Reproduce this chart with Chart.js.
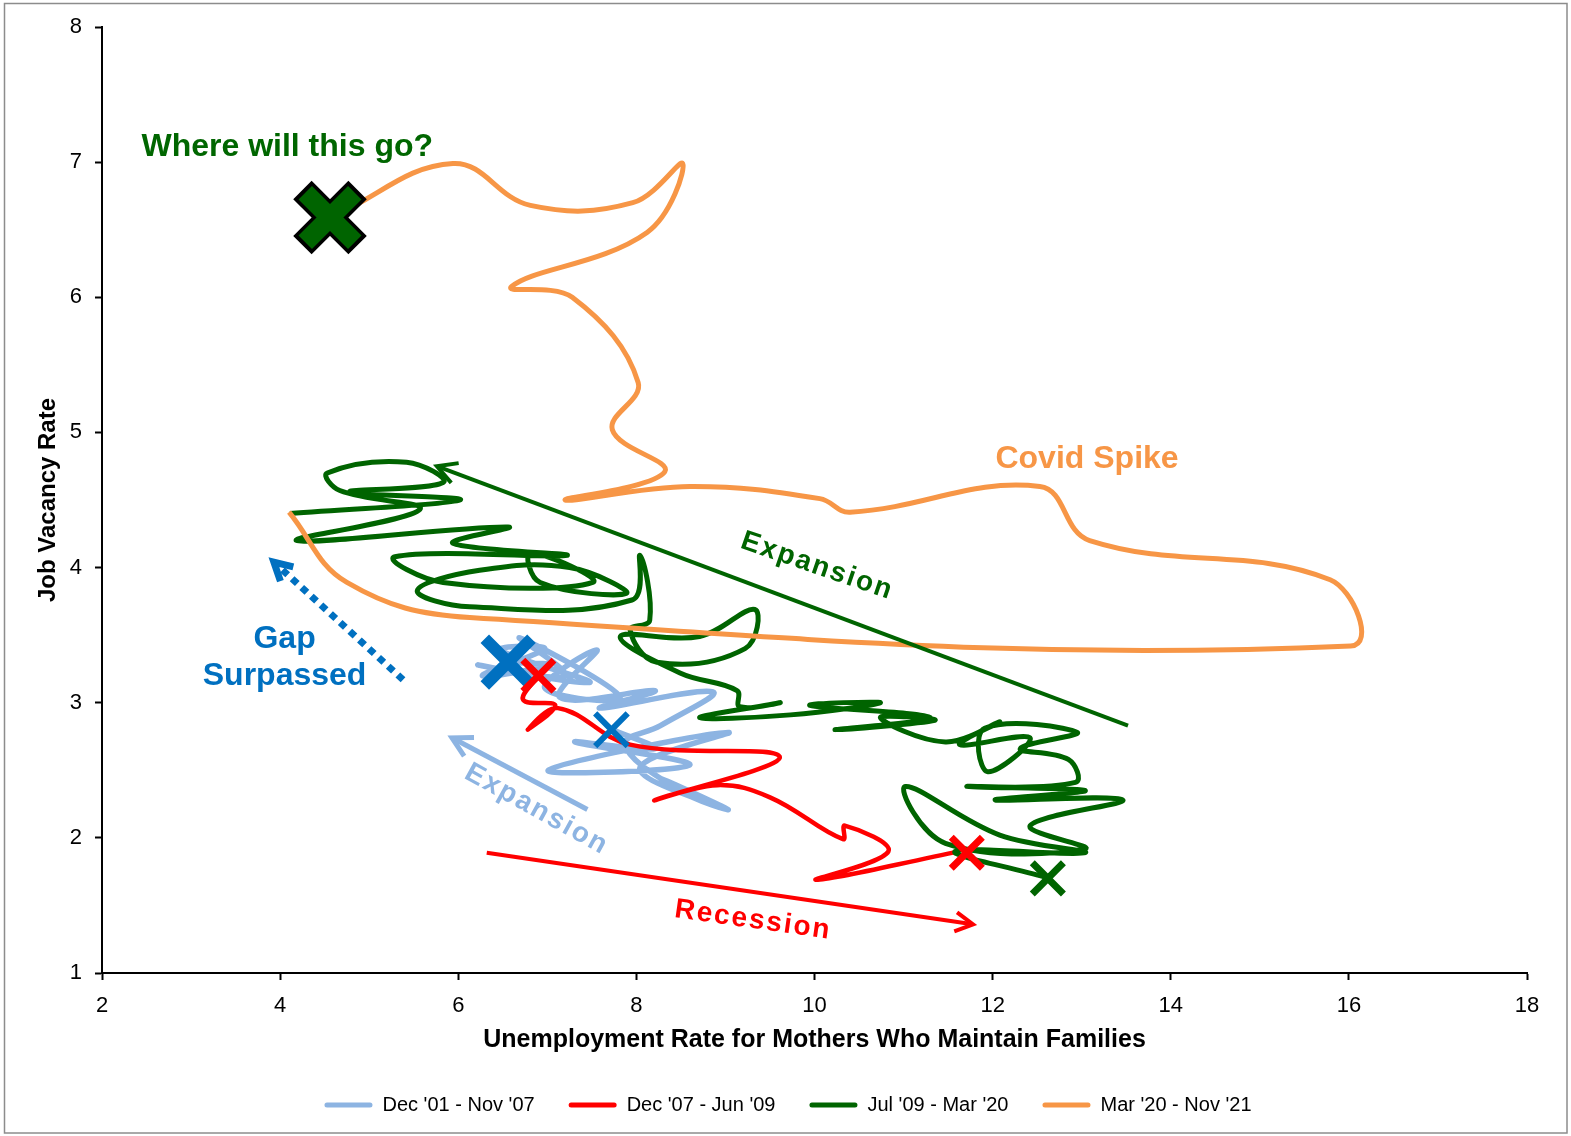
<!DOCTYPE html>
<html lang="en">
<head>
    <meta charset="UTF-8">
    <title>Job Vacancy Rate vs Unemployment Rate for Mothers Who Maintain Families</title>
    <script src="https://cdn.jsdelivr.net/npm/chart.js"></script>
    <style>
        html, body {
            margin: 0;
            padding: 0;
            background: #fff;
        }
        #wrap {
            width: 1571px;
            height: 1136px;
        }
    </style>
</head>
<body>
    <div id="wrap">
        <canvas id="chart" width="1571" height="1136"></canvas>
    </div>

    <script>
        // series labels (legend)
        const seriesLabels = ["Dec '01 - Nov '07", "Dec '07 - Jun '09", "Jul '09 - Mar '20", "Mar '20 - Nov '21"];

        // x = unemployment rate, y = job vacancy rate
        const blueX = [7.70, 8.21, 7.31, 8.60, 7.01, 9.03, 8.04, 8.71, 8.27, 9.03, 8.49, 7.87, 8.27, 8.86, 7.59, 8.21, 7.14, 7.56, 6.97, 7.82, 6.69, 7.20, 6.22, 7.48, 6.47, 6.97, 6.27, 7.01, 6.53];
        const blueY = [2.81, 2.66, 2.71, 2.54, 2.50, 2.78, 2.52, 2.28, 2.44, 2.21, 2.35, 2.69, 2.83, 3.08, 2.96, 3.09, 3.04, 3.39, 3.11, 3.04, 3.48, 3.20, 3.28, 3.15, 3.39, 3.40, 3.20, 3.28, 3.30];

        const redX = [6.88, 6.73, 7.09, 6.78, 7.12, 7.93, 9.61, 8.21, 8.91, 9.50, 10.32, 10.34, 10.83, 10.02, 11.63];
        const redY = [3.19, 3.02, 2.98, 2.80, 2.96, 2.69, 2.60, 2.28, 2.39, 2.30, 1.99, 2.09, 1.90, 1.69, 1.90];

        const greenX = [12.59, 11.58, 13.04, 12.08, 11.02, 11.47, 13.04, 12.42, 13.46, 12.03, 13.04, 11.71, 12.93, 12.85, 12.31, 12.95, 11.91, 11.94, 12.42, 11.63,
                        12.08, 11.47, 10.74, 11.35, 10.23, 11.30, 9.95, 10.74, 9.73, 8.71, 9.61, 9.16, 9.13, 8.49, 7.82, 8.71, 9.33, 9.22, 8.23, 7.93,
                        8.15, 8.04, 7.95, 6.13, 5.54, 6.24, 7.25, 7.89, 6.92, 6.81, 7.51, 5.83, 5.29, 7.22, 5.94, 6.56, 4.19, 5.57, 4.67, 4.53,
                        5.42, 5.83, 4.78, 6.02, 4.11];
        const greenY = [1.71, 1.90, 1.89, 2.02, 2.38, 1.96, 1.92, 2.09, 2.28, 2.28, 2.35, 2.38, 2.41, 2.58, 2.66, 2.78, 2.81, 2.49, 2.74, 2.69,
                        2.86, 2.71, 2.89, 2.87, 2.80, 2.89, 2.98, 3.00, 2.91, 2.89, 3.00, 2.97, 3.09, 3.22, 3.49, 3.49, 3.69, 3.40, 3.30, 3.54,
                        3.61, 4.09, 3.76, 3.71, 3.83, 3.98, 4.00, 3.81, 3.89, 4.11, 3.89, 3.89, 4.08, 4.09, 4.18, 4.30, 4.20, 4.43, 4.57, 4.70,
                        4.78, 4.63, 4.56, 4.50, 4.40];

        const orangeX = [4.10, 4.75, 6.13, 16.02, 15.79, 13.09, 12.53, 10.40, 10.06, 8.60, 7.20, 8.32, 7.73, 8.02, 7.28, 6.60, 8.12, 8.52, 7.96, 6.81, 5.94, 4.60];
        const orangeY = [4.41, 3.89, 3.63, 3.42, 3.91, 4.20, 4.60, 4.41, 4.51, 4.60, 4.50, 4.71, 5.02, 5.37, 6.00, 6.08, 6.48, 6.99, 6.70, 6.68, 6.99, 6.60];

        // X markers
        const bigBlueMark = [6.56, 3.30];
        const smallBlueMark = [7.72, 2.80];
        const redMarksX = [6.90, 11.71];
        const redMarksY = [3.20, 1.89];
        const greenMark = [12.62, 1.70];
        const finalMark = [4.56, 6.59];

        // axis ticks
        const xTicks = [2, 4, 6, 8, 10, 12, 14, 16, 18];
        const yTicks = [1, 2, 3, 4, 5, 6, 7, 8];

        const colors = ['#8DB4E2', '#FF0000', '#006400', '#F79646'];

        function pts(xs, ys) {
            return xs.map((v, i) => ({ x: v, y: ys[i] }));
        }

        function lineSet(i, xs, ys, width, order) {
            return {
                label: seriesLabels[i],
                data: pts(xs, ys),
                showLine: true,
                borderColor: colors[i],
                backgroundColor: colors[i],
                borderWidth: width,
                pointRadius: 0,
                tension: 0.4,
                order: order
            };
        }

        function markSet(data, color, radius, width, order) {
            return {
                label: 'mark',
                data: data,
                showLine: false,
                pointStyle: 'crossRot',
                pointRadius: radius,
                pointBorderColor: color,
                pointBackgroundColor: color,
                pointBorderWidth: width,
                order: order
            };
        }

        // arrows and notes drawn in data coordinates
        const arrows = [
            { from: [13.52, 2.83], to: [5.76, 4.75], color: '#006400', width: 4, head: 22 },
            { from: [5.38, 3.17], to: [3.93, 4.04], color: '#0070C0', width: 7, head: 20, dash: [7, 6] },
            { from: [7.45, 2.21], to: [5.93, 2.74], color: '#8DB4E2', width: 5, head: 22 },
            { from: [6.32, 1.89], to: [11.78, 1.36], color: '#FF0000', width: 4, head: 20 }
        ];

        const notes = [
            { text: 'Where will this go?', at: [4.08, 7.11], color: '#006600', size: 32, rot: 0, spacing: 0 },
            { text: 'Covid Spike', at: [13.06, 4.80], color: '#F79646', size: 32, rot: 0, spacing: 0 },
            { text: 'Gap', at: [4.05, 3.47], color: '#0070C0', size: 32, rot: 0, spacing: 0 },
            { text: 'Surpassed', at: [4.05, 3.20], color: '#0070C0', size: 32, rot: 0, spacing: 0 },
            { text: 'Expansion', at: [10.03, 4.01], color: '#006400', size: 28, rot: 19, spacing: 2 },
            { text: 'Expansion', at: [6.88, 2.21], color: '#8DB4E2', size: 28, rot: 29, spacing: 2 },
            { text: 'Recession', at: [9.31, 1.39], color: '#FF0000', size: 28, rot: 8, spacing: 2 }
        ];

        const notesPlugin = {
            id: 'notes',
            afterLayout(chart) {
                // legend sits a little right of centre in the original
                chart.legend.left += 22;
                chart.legend.right += 22;
            },
            beforeDraw(chart) {
                const ctx = chart.ctx;
                ctx.save();
                ctx.fillStyle = '#fff';
                ctx.fillRect(0, 0, chart.width, chart.height);
                ctx.strokeStyle = '#8c8c8c';
                ctx.lineWidth = 1.5;
                ctx.strokeRect(4.5, 3.5, chart.width - 8.5, chart.height - 6.5);
                ctx.restore();
            },
            afterDatasetsDraw(chart) {
                const ctx = chart.ctx;
                const xs = chart.scales.x, ys = chart.scales.y;

                arrows.forEach(a => {
                    const x0 = xs.getPixelForValue(a.from[0]), y0 = ys.getPixelForValue(a.from[1]);
                    const x1 = xs.getPixelForValue(a.to[0]), y1 = ys.getPixelForValue(a.to[1]);
                    const ang = Math.atan2(y1 - y0, x1 - x0);
                    ctx.save();
                    ctx.strokeStyle = a.color;
                    ctx.lineWidth = a.width;
                    ctx.setLineDash(a.dash || []);
                    ctx.beginPath();
                    ctx.moveTo(x0, y0);
                    ctx.lineTo(x1 - Math.cos(ang) * 2, y1 - Math.sin(ang) * 2);
                    ctx.stroke();
                    ctx.setLineDash([]);
                    ctx.lineJoin = 'miter';
                    ctx.beginPath();
                    ctx.moveTo(x1 - a.head * Math.cos(ang - 0.5), y1 - a.head * Math.sin(ang - 0.5));
                    ctx.lineTo(x1, y1);
                    ctx.lineTo(x1 - a.head * Math.cos(ang + 0.5), y1 - a.head * Math.sin(ang + 0.5));
                    ctx.stroke();
                    ctx.restore();
                });

                notes.forEach(n => {
                    ctx.save();
                    ctx.translate(xs.getPixelForValue(n.at[0]), ys.getPixelForValue(n.at[1]));
                    ctx.rotate(n.rot * Math.PI / 180);
                    ctx.font = 'bold ' + n.size + 'px "Liberation Sans", Arial, sans-serif';
                    ctx.letterSpacing = n.spacing + 'px';
                    ctx.fillStyle = n.color;
                    ctx.textAlign = 'center';
                    ctx.textBaseline = 'middle';
                    ctx.fillText(n.text, 0, 0);
                    ctx.restore();
                });
            }
        };

        const chart = new Chart(document.getElementById('chart'), {
            type: 'scatter',
            data: {
                datasets: [
                    lineSet(0, blueX, blueY, 5.5, 4),
                    lineSet(1, redX, redY, 4.5, 3),
                    lineSet(2, greenX, greenY, 5, 2),
                    lineSet(3, orangeX, orangeY, 5, 1),
                    markSet([{ x: bigBlueMark[0], y: bigBlueMark[1] }], '#0070C0', 33, 12, 0),
                    markSet([{ x: smallBlueMark[0], y: smallBlueMark[1] }], '#0070C0', 23, 6, 0),
                    markSet(pts(redMarksX, redMarksY), '#FF0000', 22, 7, -1),
                    markSet([{ x: greenMark[0], y: greenMark[1] }], '#006400', 22, 7, 0),
                    markSet([{ x: finalMark[0], y: finalMark[1] }], '#000000', 39, 26, -2),
                    markSet([{ x: finalMark[0], y: finalMark[1] }], '#006400', 35, 19, -3)
                ]
            },
            options: {
                responsive: false,
                animation: false,
                events: [],
                layout: { autoPadding: false, padding: { left: 5, right: 44, top: 27, bottom: 11 } },
                scales: {
                    x: {
                        type: 'linear',
                        min: 2,
                        max: 18,
                        afterBuildTicks: s => { s.ticks = xTicks.map(v => ({ value: v })); },
                        afterFit: s => { s.height = 88; },
                        ticks: {
                            color: '#000',
                            padding: 13,
                            font: { family: '"Liberation Sans", Arial, sans-serif', size: 22 }
                        },
                        grid: { drawOnChartArea: false, tickLength: 7, tickColor: '#000', tickWidth: 2 },
                        border: { color: '#000', width: 2 },
                        title: {
                            display: true,
                            text: 'Unemployment Rate for Mothers Who Maintain Families',
                            color: '#000',
                            padding: { top: 0, bottom: 6 },
                            font: { family: '"Liberation Sans", Arial, sans-serif', size: 25, weight: 'bold' }
                        }
                    },
                    y: {
                        type: 'linear',
                        min: 1,
                        max: 8,
                        afterBuildTicks: s => { s.ticks = yTicks.map(v => ({ value: v })); },
                        afterFit: s => { s.width = 97; },
                        ticks: {
                            color: '#000',
                            padding: 13,
                            font: { family: '"Liberation Sans", Arial, sans-serif', size: 22 }
                        },
                        grid: { drawOnChartArea: false, tickLength: 7, tickColor: '#000', tickWidth: 2 },
                        border: { color: '#000', width: 2 },
                        title: {
                            display: true,
                            text: 'Job Vacancy Rate',
                            color: '#000',
                            padding: { top: 28.6, bottom: 0 },
                            font: { family: '"Liberation Sans", Arial, sans-serif', size: 24, weight: 'bold' }
                        }
                    }
                },
                plugins: {
                    tooltip: { enabled: false },
                    legend: {
                        position: 'bottom',
                        labels: {
                            color: '#000',
                            boxWidth: 48,
                            boxHeight: 5,
                            padding: 34,
                            useBorderRadius: true,
                            borderRadius: 2.5,
                            font: { family: '"Liberation Sans", Arial, sans-serif', size: 20 },
                            filter: item => item.datasetIndex < 4,
                            sort: (a, b) => a.datasetIndex - b.datasetIndex,
                            generateLabels: c => Chart.defaults.plugins.legend.labels.generateLabels(c)
                                .map(l => Object.assign(l, { lineWidth: 0 }))
                        }
                    }
                }
            },
            plugins: [notesPlugin]
        });
    </script>
</body>
</html>
